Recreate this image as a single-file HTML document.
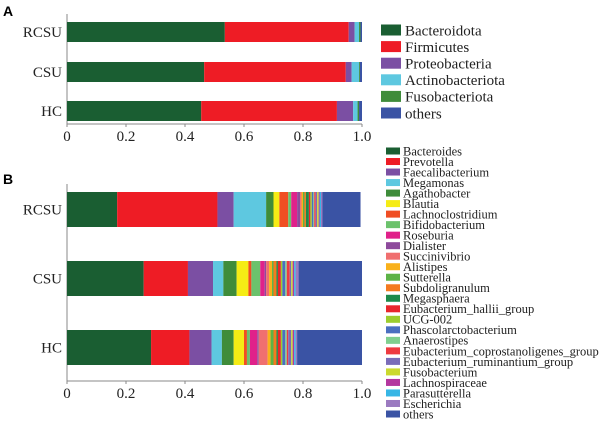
<!DOCTYPE html>
<html><head><meta charset="utf-8"><style>
html,body{margin:0;padding:0;background:#fff;}
svg{display:block;font-family:"Liberation Serif",serif;}
</style></head><body>
<svg id="chart" width="610" height="423" viewBox="0 0 610 423"></svg>
<script>
const groups=["RCSU","CSU","HC"];
const phylaNames=["Bacteroidota","Firmicutes","Proteobacteria","Actinobacteriota","Fusobacteriota","others"];
const phylaColors=["#1a5e32","#ee1c25","#7b4fa3","#5ec8e0","#3f8c3a","#3a53a4"];
const phylaRCSU=[0.535,0.42,0.02,0.015,0.005,0.005];
const phylaCSU=[0.465,0.48,0.02,0.025,0.003,0.007];
const phylaHC=[0.455,0.46,0.055,0.015,0.005,0.01];
const genusNames=["Bacteroides","Prevotella","Faecalibacterium","Megamonas","Agathobacter","Blautia","Lachnoclostridium","Bifidobacterium","Roseburia","Dialister","Succinivibrio","Alistipes","Sutterella","Subdoligranulum","Megasphaera","Eubacterium_hallii_group","UCG-002","Phascolarctobacterium","Anaerostipes","Eubacterium_coprostanoligenes_group","Eubacterium_ruminantium_group","Fusobacterium","Lachnospiraceae","Parasutterella","Escherichia","others"];
const genusColors=["#1a5e32","#ee1c25","#7b4fa3","#5ec8e0","#3f8c3a","#f5ec15","#f04e23","#6cc26c","#e0218a","#8e4a9c","#f06f6f","#f9b11b","#5db346","#f47a20","#1d8a4a","#e8262c","#9ccd2e","#4a6fc0","#7fcf8f","#ee3a40","#7a6cb8","#cbd92e","#b4379f","#37b6e5","#9b7ac0","#3a53a4"];
const genusRCSU=[0.17,0.34,0.055,0.11,0.025,0.02,0.03,0.01,0.02,0.01,0.005,0.005,0.005,0.005,0.01,0.005,0.005,0.005,0.003,0.005,0.005,0.005,0.003,0.005,0.005,0.129];
const genusCSU=[0.26,0.15,0.085,0.035,0.045,0.04,0.01,0.03,0.015,0.005,0.01,0.01,0.005,0.01,0.005,0.01,0.005,0.01,0.005,0.01,0.005,0.005,0.005,0.005,0.01,0.215];
const genusHC=[0.285,0.13,0.075,0.035,0.04,0.035,0.01,0.01,0.025,0.005,0.03,0.01,0.01,0.01,0.005,0.01,0.005,0.01,0.005,0.005,0.01,0.005,0.005,0.005,0.005,0.22];
const tickVals=[0,0.2,0.4,0.6,0.8,1.0];
const tickLabels=["0","0.2","0.4","0.6","0.8","1.0"];
const NS="http://www.w3.org/2000/svg";
const svg=document.getElementById("chart");
const x0=67,xw=295;
function xs(v){return x0+v*xw;}
function el(t,a){const e=document.createElementNS(NS,t);for(const k in a)e.setAttribute(k,a[k]);svg.appendChild(e);return e;}
function txt(s,a){const e=el("text",a);e.textContent=s;return e;}
function panel(p,rows,colors,names,barTops,barH,axisY){
  const ax=el("line",{x1:x0,y1:axisY,x2:xs(1),y2:axisY,stroke:"#888","stroke-width":1});
  
  const ay=el("line",{x1:x0,y1:barTops[0]-8,x2:x0,y2:axisY,stroke:"#888","stroke-width":1});
  
  tickVals.forEach((v,i)=>{
    const t=el("line",{x1:xs(v),y1:axisY,x2:xs(v),y2:axisY+3,stroke:"#888"});
    
    const l=txt(tickLabels[i],{x:xs(v),y:axisY+17,"text-anchor":"middle","font-size":15,fill:"#222"});
    
  });
  rows.forEach((r,ri)=>{
    const top=barTops[ri];
    const g=txt(groups[ri],{x:x0-5,y:top+barH/2+5,"text-anchor":"end","font-size":15,fill:"#222"});
    
    let acc=0;
    r.forEach((v,ci)=>{
      const b=el("rect",{x:xs(acc),y:top,width:Math.max(0,xs(acc+v)-xs(acc)),height:barH,fill:colors[ci]});
      
      
      acc+=v;
    });
  });
}
function legend(p,names,colors,x,y0,step,sw,sh,fs,tx){
  names.forEach((n,i)=>{
    const cy=y0+i*step;
    const s=el("rect",{x:x,y:cy-sh/2,width:sw,height:sh,fill:colors[i]});
    
    const t=txt(n,{x:tx,y:cy+fs*0.35,"font-size":fs,fill:"#222"});
    
  });
}
const la=txt("A",{x:3,y:16,"font-size":14,"font-weight":"bold","font-family":"Liberation Sans, sans-serif"});

const lb=txt("B",{x:3,y:184,"font-size":14,"font-weight":"bold","font-family":"Liberation Sans, sans-serif"});

panel("phylum",[phylaRCSU,phylaCSU,phylaHC],phylaColors,phylaNames,[22,62,101],20,124);
panel("genus",[genusRCSU,genusCSU,genusHC],genusColors,genusNames,[192,261,330],35,381);
legend("phylum",phylaNames,phylaColors,381,30,16.6,20,11,15,405);
legend("genus",genusNames,genusColors,386,151,10.52,14,7,12.5,403);
</script>
</body></html>
